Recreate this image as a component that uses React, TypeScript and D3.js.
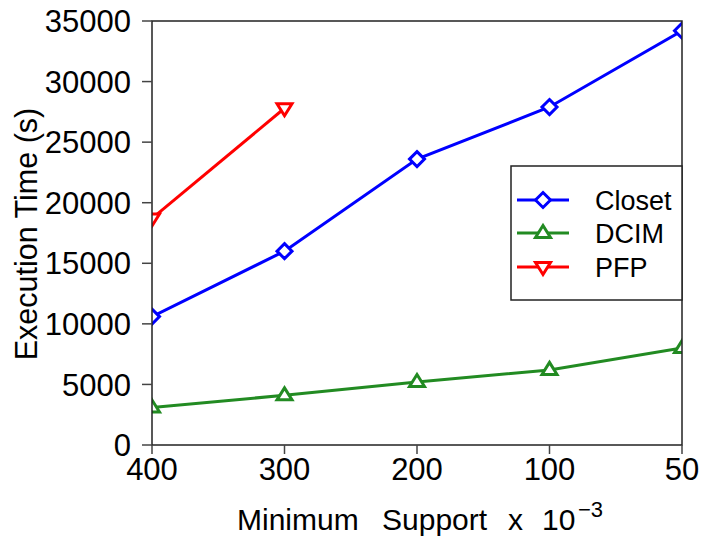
import React from "react";
import * as d3 from "d3";

const categories = ["400", "300", "200", "100", "50"];
const yTicks = [0, 5000, 10000, 15000, 20000, 25000, 30000, 35000];
const closet = [10600, 16000, 23600, 27900, 34200];
const dcim = [3100, 4100, 5200, 6200, 8000];
const pfp = [18700, 27800];

const seriesNames = ["Closet", "DCIM", "PFP"];
const seriesColors = ["#0000ff", "#228b22", "#ff0000"];
const seriesValues = [closet, dcim, pfp];
const seriesMarkers = ["diamond", "triangle", "triangleDown"];

const W = 701, H = 541;
const M = { left: 152, right: 682, top: 21, bottom: 445 };
const FONT = "'Liberation Sans', Arial, Helvetica, sans-serif";

function markerPath(kind: string, cx: number, cy: number): string {
  const s = 7.5;
  if (kind === "diamond") return `M${cx},${cy - s}L${cx + s},${cy}L${cx},${cy + s}L${cx - s},${cy}Z`;
  if (kind === "triangle") return `M${cx},${cy - s}L${cx + s},${cy + s * 0.6}L${cx - s},${cy + s * 0.6}Z`;
  return `M${cx},${cy + s}L${cx + s},${cy - s * 0.6}L${cx - s},${cy - s * 0.6}Z`;
}

export default function App() {
  const x = d3.scalePoint<string>().domain(categories).range([M.left, M.right]);
  const y = d3.scaleLinear().domain([0, 35000]).range([M.bottom, M.top]);
  const line = d3.line<number>().x((_, i) => x(categories[i])!).y((d) => y(d));

  const legX = 511, legY = 166, legW = 171, legH = 134;
  const rowY = [200, 233, 267];

  return (
    <svg width={W} height={H} style={{ position: "absolute", left: 0, top: 0, background: "#fff" }}>
      <defs>
        <clipPath id="plotclip">
          <rect x={M.left} y={M.top} width={M.right - M.left} height={M.bottom - M.top} />
        </clipPath>
      </defs>
      <rect x={0} y={0} width={W} height={H} fill="#fff" />
      <g clipPath="url(#plotclip)">
        {seriesValues.map((vals, si) => (
          <g key={si}>
            <path d={line(vals) || ""} fill="none" stroke={seriesColors[si]} strokeWidth={3} />
            {vals.map((v, i) => (
              <path key={i} d={markerPath(seriesMarkers[si], x(categories[i])!, y(v))} fill="#fff" stroke={seriesColors[si]} strokeWidth={3} />
            ))}
          </g>
        ))}
      </g>
      {/* frame */}
      <rect x={M.left} y={M.top} width={M.right - M.left} height={M.bottom - M.top} fill="none" stroke="#222" strokeWidth={1.5} />
      {/* y ticks */}
      {yTicks.map((t) => (
        <g key={t}>
          <line x1={M.left - 10} x2={M.left} y1={y(t)} y2={y(t)} stroke="#444" strokeWidth={1.5} />
          <text x={131} y={y(t)} dy="0.36em" textAnchor="end" fontFamily={FONT} fontSize={31} fill="#000">{t}</text>
        </g>
      ))}
      {/* x ticks */}
      {categories.map((c) => (
        <g key={c}>
          <line x1={x(c)} x2={x(c)} y1={M.bottom} y2={M.bottom + 9} stroke="#444" strokeWidth={1.5} />
          <text x={x(c)} y={480} textAnchor="middle" fontFamily={FONT} fontSize={31} fill="#000">{c}</text>
        </g>
      ))}
      {/* axis titles */}
      <g fontFamily={FONT} fontSize={30} fill="#000">
        <text x={237} y={530}>Minimum</text>
        <text x={382} y={530}>Support</text>
        <text x={508} y={530}>x</text>
        <text x={542} y={530}>10</text>
        <text x={578} y={517} fontSize={22}>−3</text>
      </g>
      <text transform="translate(37,234) rotate(-90)" textAnchor="middle" fontFamily={FONT} fontSize={30.5} fill="#000">Execution Time (s)</text>
      {/* legend */}
      <rect x={legX} y={legY} width={legW} height={legH} fill="#fff" stroke="#222" strokeWidth={1.5} />
      {seriesNames.map((n, i) => (
        <g key={n}>
          <line x1={517} x2={569} y1={rowY[i]} y2={rowY[i]} stroke={seriesColors[i]} strokeWidth={3} />
          <path d={markerPath(seriesMarkers[i], 543, rowY[i])} fill="#fff" stroke={seriesColors[i]} strokeWidth={3} />
          <text x={595} y={rowY[i]} dy="0.36em" fontFamily={FONT} fontSize={27} fill="#000">{n}</text>
        </g>
      ))}
    </svg>
  );
}
